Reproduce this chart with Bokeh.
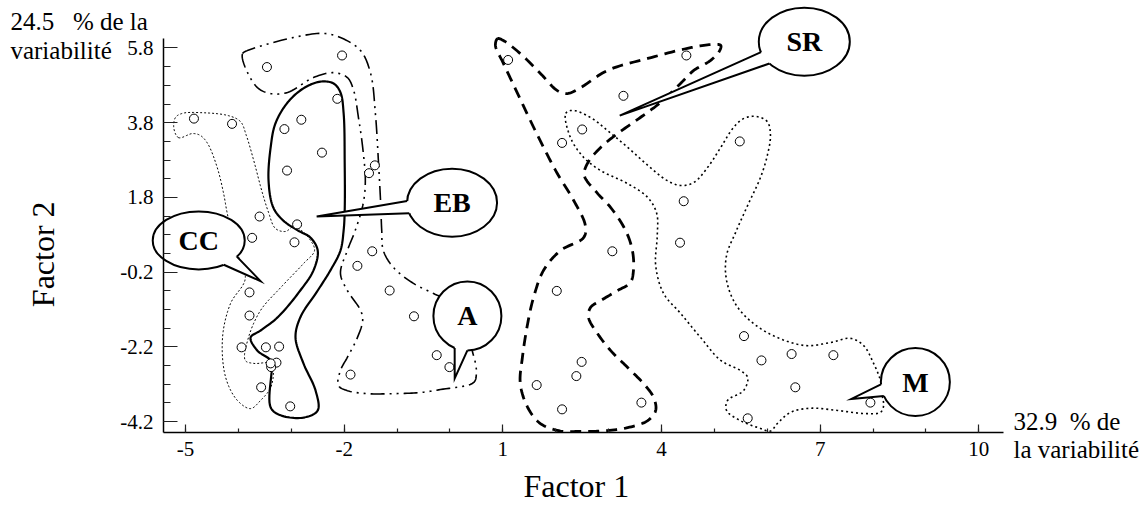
import numpy as np
from bokeh.plotting import figure
from bokeh.models import Range1d, FixedTicker, Label
from bokeh.embed import file_html
from bokeh.resources import INLINE
from bokeh.core.properties import value

# ---------------- data ----------------
pt_x = [-3.46, -2.04, -2.13, -4.84, -4.12, -3.13, -2.81, -2.42, -3.08, -1.42, -1.53,
        -3.60, -2.89, -3.74, -2.94, -1.47, -1.75, -1.14, -3.79, -3.79, -0.68, -3.94,
        -3.48, -3.23, -3.28, -3.38, -3.39, -0.25, -1.88, -3.57, -3.02, -0.01, 3.07, 4.35,
        2.02, 2.49, 2.39, 1.64, 2.12, 3.62, 1.10, 4.47, 3.28, 2.50, 2.12, 4.42,
        5.48, 5.56, 6.46, 7.25, 5.89, 6.53, 7.95, 5.63]
pt_y = [5.29, 5.60, 4.44, 3.91, 3.77, 3.63, 3.88, 3.00, 2.52, 2.66, 2.45,
        1.29, 1.08, 0.72, 0.60, 0.36, -0.03, -0.69, -0.74, -1.36, -1.38, -2.21,
        -2.21, -2.19, -2.62, -2.74, -2.64, -2.42, -2.94, -3.28, -3.79, -2.74, 0.36, 0.59,
        -0.70, -2.60, -2.98, -3.22, -3.87, -3.69, 5.48, 5.60, 4.52, 3.62, 3.26, 1.70,
        3.30, -1.91, -2.39, -2.42, -2.56, -3.28, -3.69, -4.11]

# group outlines (data units)
cc_x = [-5.13, -5.22, -5.19, -5.06, -4.72, -4.19, -3.96, -3.85, -3.71, -3.56, -3.43, -3.30,
        -3.11, -2.96, -2.83, -2.66, -2.56, -2.77, -3.20, -3.58, -3.81, -3.87, -3.71, -3.39,
        -3.34, -3.39, -3.58, -3.77, -4.02, -4.24, -4.30, -4.15, -3.87, -4.04, -4.21, -4.28,
        -4.40, -4.58, -4.72, -4.87]
cc_y = [3.40, 3.65, 3.94, 4.05, 4.07, 3.99, 3.83, 3.46, 2.79, 1.99, 1.40, 0.97,
        0.89, 1.02, 0.94, 0.70, 0.38, 0.03, -0.61, -1.22, -1.95, -2.56, -2.64, -2.64,
        -2.83, -3.29, -3.63, -3.85, -3.63, -3.02, -1.95, -1.04, -0.37, 0.38, 1.37, 1.91,
        2.60, 3.24, 3.46, 3.51]

eb_x = [-2.45, -2.20, -2.07, -2.01, -1.99, -1.99, -2.01, -2.07, -2.26, -2.50, -2.83, -2.92,
        -2.77, -2.54, -2.50, -2.77, -3.20, -3.39, -3.37, -3.39, -3.64, -3.77, -3.58, -3.26,
        -2.83, -2.58, -2.50, -2.64, -2.88, -3.15, -3.34, -3.43, -3.39, -3.30, -3.07, -2.77]
eb_y = [4.90, 4.85, 4.61, 4.05, 2.71, 1.45, 0.92, 0.38, -0.15, -0.69, -1.41, -1.95,
        -2.64, -3.37, -3.90, -4.09, -4.03, -3.82, -2.75, -2.56, -2.30, -1.95, -1.76, -1.41,
        -0.69, -0.15, 0.38, 0.73, 0.92, 1.18, 1.53, 2.25, 3.14, 3.78, 4.34, 4.72]

a_x = [-3.92, -3.83, -2.96, -2.39, -2.07, -1.69, -1.50, -1.41, -1.35, -1.31, -1.29, -1.26,
       -1.07, -0.69, -0.31, 0.11, 0.35, 0.43, 0.48, 0.50, 0.45, -0.18, -0.56, -1.07,
       -1.56, -1.94, -2.11, -2.07, -1.94, -1.75, -1.65, -1.69, -1.94, -2.07, -1.94, -1.79,
       -1.64, -1.60, -1.65, -1.73, -1.82, -1.94, -2.20, -2.58, -3.07, -3.39, -3.64, -3.90]
a_y = [5.65, 5.73, 6.08, 6.19, 6.08, 5.73, 5.12, 4.05, 2.71, 1.64, 0.92, 0.38,
       -0.07, -0.50, -0.77, -1.09, -1.89, -2.35, -2.62, -2.91, -3.15, -3.34, -3.42, -3.45,
       -3.45, -3.37, -3.23, -2.83, -2.48, -1.95, -1.49, -1.22, -0.69, -0.23, 0.38, 0.92,
       1.64, 2.25, 3.14, 3.94, 4.66, 5.01, 5.14, 5.01, 4.61, 4.58, 4.74, 5.39]

sr_x = [0.90, 0.86, 1.01, 1.28, 1.52, 1.77, 2.03, 2.34, 2.56, 2.53, 2.09, 1.77,
        1.58, 1.47, 1.37, 1.33, 1.47, 1.71, 2.09, 2.47, 2.85, 3.36, 3.74, 3.89,
        3.85, 3.66, 3.36, 3.04, 2.79, 2.62, 2.66, 2.85, 3.17, 3.41, 3.47, 3.45,
        3.32, 3.04, 2.79, 2.54, 2.60, 2.85, 3.17, 3.60, 3.98, 4.36, 4.61, 4.93,
        5.10, 5.12, 4.93, 4.49, 3.74, 2.98, 2.47, 2.22, 2.03, 1.71, 1.33, 1.01]
sr_y = [6.05, 5.87, 5.39, 4.58, 3.86, 3.14, 2.44, 1.72, 1.05, 0.73, 0.38, -0.15,
        -0.88, -1.57, -2.48, -3.18, -3.82, -4.25, -4.45, -4.46, -4.45, -4.36, -4.17, -3.90,
        -3.55, -3.18, -2.75, -2.30, -1.84, -1.41, -1.14, -0.96, -0.69, -0.48, -0.15, 0.38,
        0.92, 1.53, 1.91, 2.39, 2.71, 3.14, 3.51, 3.94, 4.34, 4.85, 5.20, 5.47,
        5.73, 5.87, 5.89, 5.79, 5.52, 5.20, 4.74, 4.58, 4.66, 5.12, 5.65, 6.00]

m_x = [2.19, 2.32, 2.66, 2.98, 3.36, 3.79, 4.11, 4.36, 4.61, 4.87, 5.12, 5.36,
       5.55, 5.78, 6.00, 6.06, 6.00, 5.87, 5.63, 5.40, 5.23, 5.23, 5.44, 5.93,
       6.69, 7.20, 7.57, 7.82, 8.01, 8.14, 8.18, 8.20, 8.14, 7.82, 7.33, 6.82,
       6.44, 6.19, 6.06, 5.87, 5.49, 5.23, 5.25, 5.55, 5.63, 5.49, 5.12, 4.74,
       4.36, 4.04, 3.89, 3.92, 3.91, 3.74, 3.36, 2.85, 2.53, 2.28]
m_y = [4.05, 4.13, 3.94, 3.59, 3.14, 2.60, 2.25, 2.12, 2.20, 2.60, 3.14, 3.67,
       3.91, 3.97, 3.83, 3.46, 2.92, 2.33, 1.59, 0.86, 0.25, -0.42, -1.14, -1.76,
       -2.16, -2.08, -1.97, -2.16, -2.64, -3.10, -3.55, -3.77, -3.95, -3.98, -3.90, -3.84,
       -3.95, -4.25, -4.45, -4.38, -4.17, -3.90, -3.63, -3.37, -3.02, -2.83, -2.56, -1.95,
       -1.30, -0.77, -0.02, 0.78, 1.37, 1.80, 2.17, 2.52, 2.87, 3.40]

# call-outs
co_label = ["CC", "EB", "A", "SR", "M"]
co_x = [-4.75, 0.04, 0.33, 6.70, 8.80]
co_y = [0.65, 1.66, -1.37, 5.97, -3.14]
co_tip_x = [-3.58, -2.52, 0.09, 3.21, 7.59]
co_tip_y = [-0.44, 1.29, -3.04, 3.99, -3.59]

x_ticks = [-5, -2, 1, 4, 7, 10]
y_ticks = [5.8, 3.8, 1.8, -0.2, -2.2, -4.2]
y_tick_labels = ["5.8", "3.8", "1.8", "-0.2", "-2.2", "-4.2"]

# ---------------- geometry / style ----------------
W, H = 1148, 505
# data extent of whole canvas (frame covers the canvas, axes are pinned inside)
X0, X1 = -8.498, 13.208
Y0, Y1 = -6.443, 7.071
AX_X = (-5.416, 10.466)   # x-axis extent
AX_Y = (-4.489, 6.046)    # y-axis extent
SX = W / (X1 - X0)
SY = H / (Y1 - Y0)
FONT = "Liberation Serif"

co_w = [92, 90, 68, 91, 69]      # px
co_h = [58, 68, 69, 68, 68]
co_a1 = [-57, 177, -112, 198, 184]
co_a2 = [-34, 198, -90, 220, 204]


def smooth_closed(xs, ys, n=12, alpha=0.5):
    P = np.column_stack([np.asarray(xs) * SX, np.asarray(ys) * SY])
    N = len(P)
    out = []
    for i in range(N):
        p0, p1, p2, p3 = P[(i - 1) % N], P[i], P[(i + 1) % N], P[(i + 2) % N]
        t0 = 0.0
        t1 = t0 + max(np.linalg.norm(p1 - p0), 1e-6) ** alpha
        t2 = t1 + max(np.linalg.norm(p2 - p1), 1e-6) ** alpha
        t3 = t2 + max(np.linalg.norm(p3 - p2), 1e-6) ** alpha
        for t in np.linspace(t1, t2, n, endpoint=False):
            A1 = (t1 - t) / (t1 - t0) * p0 + (t - t0) / (t1 - t0) * p1
            A2 = (t2 - t) / (t2 - t1) * p1 + (t - t1) / (t2 - t1) * p2
            A3 = (t3 - t) / (t3 - t2) * p2 + (t - t2) / (t3 - t2) * p3
            B1 = (t2 - t) / (t2 - t0) * A1 + (t - t0) / (t2 - t0) * A2
            B2 = (t3 - t) / (t3 - t1) * A2 + (t - t1) / (t3 - t1) * A3
            C = (t2 - t) / (t2 - t1) * B1 + (t - t1) / (t2 - t1) * B2
            out.append(C)
    out.append(out[0])
    out = np.array(out)
    return list(out[:, 0] / SX), list(out[:, 1] / SY)


p = figure(width=W, height=H,
           x_range=Range1d(X0, X1), y_range=Range1d(Y0, Y1),
           min_border=0, min_border_left=0, min_border_right=0,
           min_border_top=0, min_border_bottom=0,
           output_backend="svg", toolbar_location=None)
p.outline_line_color = None
p.xgrid.visible = False
p.ygrid.visible = False
p.background_fill_color = "white"
p.border_fill_color = "white"

# axes pinned inside the canvas
p.xaxis.fixed_location = AX_Y[0]
p.yaxis.fixed_location = AX_X[0]
p.xaxis.bounds = AX_X
p.yaxis.bounds = AX_Y
p.xaxis.ticker = FixedTicker(ticks=x_ticks, minor_ticks=list(range(-5, 11)))
p.xaxis.major_label_overrides = {t: str(t) for t in x_ticks}
p.yaxis.ticker = FixedTicker(ticks=y_ticks, minor_ticks=[round(-4.2 + 0.5 * i, 2) for i in range(21)])
p.yaxis.major_label_overrides = dict(zip(y_ticks, y_tick_labels))
for ax in (p.xaxis[0], p.yaxis[0]):
    ax.axis_line_color = "black"
    ax.axis_line_width = 1.5
    ax.major_tick_line_color = "#222222"
    ax.minor_tick_line_color = "#222222"
    ax.major_tick_line_width = 1.2
    ax.minor_tick_line_width = 1.2
    ax.major_tick_out = 0
    ax.minor_tick_out = 0
    ax.major_label_text_font = FONT
    ax.major_label_text_font_size = "21px"
    ax.major_label_text_color = "black"
    ax.major_label_standoff = 10
p.xaxis.major_tick_in = 8
p.xaxis.minor_tick_in = 4
p.yaxis.major_tick_in = 14
p.yaxis.minor_tick_in = 7

# contours
styles = [
    (cc_x, cc_y, dict(line_width=1.0, line_dash="2 2")),
    (eb_x, eb_y, dict(line_width=2.2)),
    (a_x, a_y, dict(line_width=1.6, line_dash="14 5 2 5 2 5")),
    (sr_x, sr_y, dict(line_width=2.8, line_dash="11 7")),
    (m_x, m_y, dict(line_width=1.6, line_dash="2 3")),
]
for xs, ys, st in styles:
    sx_, sy_ = smooth_closed(xs, ys)
    p.line(sx_, sy_, line_color="black", line_join="round", **st)

# points
p.scatter(pt_x, pt_y, marker="circle", size=9, fill_color="white",
          line_color="black", line_width=1)

# call-outs
p.ellipse(co_x, co_y, width=[w / SX for w in co_w], height=[h / SY for h in co_h],
          fill_color="white", line_color="black", line_width=2)
fill_xs, fill_ys, edge_xs, edge_ys = [], [], [], []
for cx, cy, w, h, a1, a2, tx, ty in zip(co_x, co_y, co_w, co_h, co_a1, co_a2, co_tip_x, co_tip_y):
    r1, r2 = np.radians(a1), np.radians(a2)
    b1 = (cx + w / 2 * np.cos(r1) / SX, cy + h / 2 * np.sin(r1) / SY)
    b2 = (cx + w / 2 * np.cos(r2) / SX, cy + h / 2 * np.sin(r2) / SY)
    i1 = (cx + 0.6 * w / 2 * np.cos(r1) / SX, cy + 0.6 * h / 2 * np.sin(r1) / SY)
    i2 = (cx + 0.6 * w / 2 * np.cos(r2) / SX, cy + 0.6 * h / 2 * np.sin(r2) / SY)
    fill_xs.append([i1[0], b1[0], tx, b2[0], i2[0]])
    fill_ys.append([i1[1], b1[1], ty, b2[1], i2[1]])
    edge_xs.append([b1[0], tx, b2[0]])
    edge_ys.append([b1[1], ty, b2[1]])
p.patches(fill_xs, fill_ys, fill_color="white", line_color=None)
p.multi_line(edge_xs, edge_ys, line_color="black", line_width=2, line_join="miter")
p.text(co_x, co_y, text=co_label, text_font=value(FONT), text_font_style="bold",
       text_font_size="28px", text_align="center", text_baseline="middle", text_color="black")


# free texts
def lab(x, y, t, size, **kw):
    p.add_layout(Label(x=x, y=y, text=t, text_font=FONT, text_font_size=size,
                       text_color="black", **kw))


lab(-8.31, 6.52, "24.5\u00a0\u00a0 % de la", "25px", text_align="left", text_baseline="alphabetic")
lab(-8.31, 5.72, "variabilité", "25px", text_align="left", text_baseline="alphabetic")
lab(10.655, -4.20, "32.9\u00a0 % de", "25px", text_align="left", text_baseline="alphabetic")
lab(10.655, -4.95, "la variabilité", "25px", text_align="left", text_baseline="alphabetic")
lab(2.39, -5.91, "Factor 1", "32px", text_align="center", text_baseline="alphabetic")
lab(-7.70, 0.28, "Factor 2", "32px", text_align="center", text_baseline="alphabetic",
    angle=np.pi / 2)

open("out.html", "w").write(file_html(p, INLINE))
